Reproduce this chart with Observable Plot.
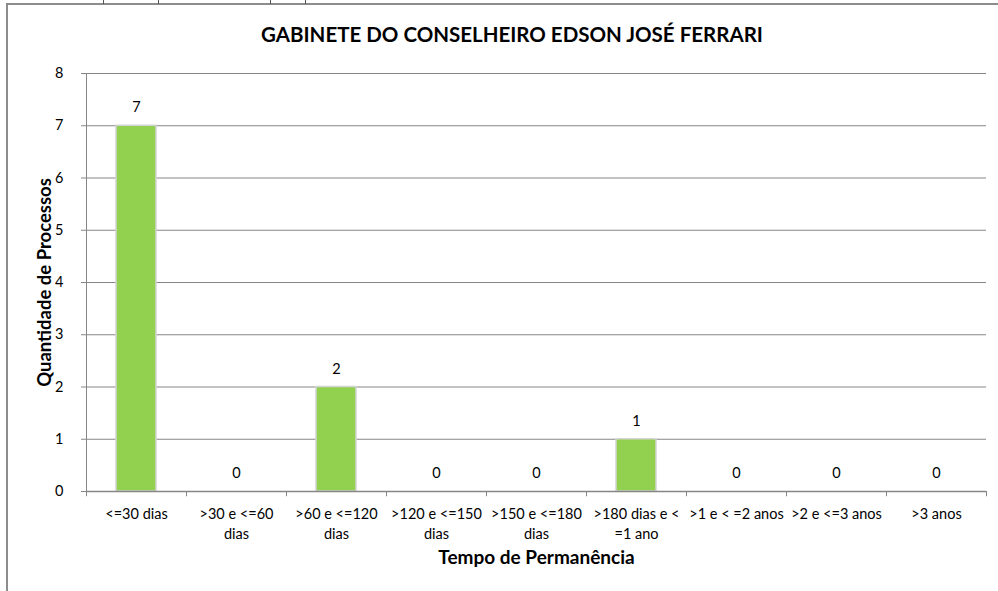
<!DOCTYPE html>
<html>
<head>
<meta charset="utf-8">
<script src="https://cdn.jsdelivr.net/npm/d3@7"></script>
<script src="https://cdn.jsdelivr.net/npm/@observablehq/plot@0.6"></script>
<style>
  html, body { margin: 0; padding: 0; background: #fff; width: 998px; height: 591px; overflow: hidden; }
  #frame { position: absolute; left: 6px; top: 3px; width: 992px; height: 588px; border-left: 2px solid #8c8c8c; border-top: 2px solid #8c8c8c; }
  .cut { position: absolute; top: 0; width: 1px; height: 4px; background: #555; }
  #title { position: absolute; left: 0; top: 22px; width: 1024px; text-align: center; font-family: Lato, sans-serif; font-weight: bold; font-size: 20.5px; color: #000; }
  #chart { position: absolute; left: 0; top: 60px; }
</style>
</head>
<body>
<div id="frame"></div>
<div class="cut" style="left:103px"></div>
<div class="cut" style="left:158px"></div>
<div class="cut" style="left:270px"></div>
<div class="cut" style="left:305px"></div>
<div id="title">GABINETE DO CONSELHEIRO EDSON JOSÉ FERRARI</div>
<div id="chart"></div>
<script>
const categories = [
  "<=30 dias",
  ">30 e <=60\ndias",
  ">60 e <=120\ndias",
  ">120 e <=150\ndias",
  ">150 e <=180\ndias",
  ">180 dias e <\n=1 ano",
  ">1 e < =2 anos",
  ">2 e <=3 anos",
  ">3 anos"
];
const values = [7, 0, 2, 0, 0, 1, 0, 0, 0];
const yTicks = [0, 1, 2, 3, 4, 5, 6, 7, 8];
const xLabel = "Tempo de Permanência";
const yLabel = "Quantidade de Processos";

const data = categories.map((c, i) => ({cat: c, value: values[i]}));
const gridColor = "#868686";

const chart = Plot.plot({
  width: 998,
  height: 531,
  marginLeft: 86,
  marginRight: 12,
  marginTop: 13,
  marginBottom: 100,
  style: {fontFamily: "Lato, sans-serif", fontSize: "14.5px", color: "#000", background: "transparent", overflow: "visible"},
  x: {domain: categories, padding: 0, axis: null},
  y: {domain: [0, 8], axis: null},
  marks: [
    Plot.ruleY(yTicks.slice(1), {stroke: gridColor, strokeWidth: 1}),
    Plot.ruleX([categories[0]], {x: d => d, dx: -50, y1: 0, y2: 8, stroke: gridColor}),
    Plot.barY(data, {x: "cat", y: "value", fill: "#92D050", stroke: "#d4d4d4", strokeWidth: 1.5, insetLeft: 30, insetRight: 30}),
    Plot.ruleY([0], {stroke: gridColor, strokeWidth: 1.5}),
    Plot.ruleX(categories, {x: d => d, dx: -50, y1: 0, y2: -0.1, stroke: gridColor}),
    Plot.ruleX([categories[categories.length - 1]], {x: d => d, dx: 50, y1: 0, y2: -0.1, stroke: gridColor}),
    Plot.axisY({ticks: yTicks, tickSize: 5, tickPadding: 18, label: null, stroke: gridColor, fontSize: 14.5}),
    Plot.text(categories, {x: d => d, frameAnchor: "bottom", dy: 13, lineAnchor: "top", lineHeight: 1.38, fontSize: 14.5}),
    Plot.text(data, {x: "cat", y: "value", text: d => String(d.value), dy: -18, fontSize: 14.5}),
    Plot.text([xLabel], {frameAnchor: "bottom", dy: 72, fontWeight: "bold", fontSize: 19}),
    Plot.text([yLabel], {frameAnchor: "left", textAnchor: "middle", rotate: -90, dx: -41, fontWeight: "bold", fontSize: 18.5})
  ]
});
document.getElementById("chart").appendChild(chart);
</script>
</body>
</html>
